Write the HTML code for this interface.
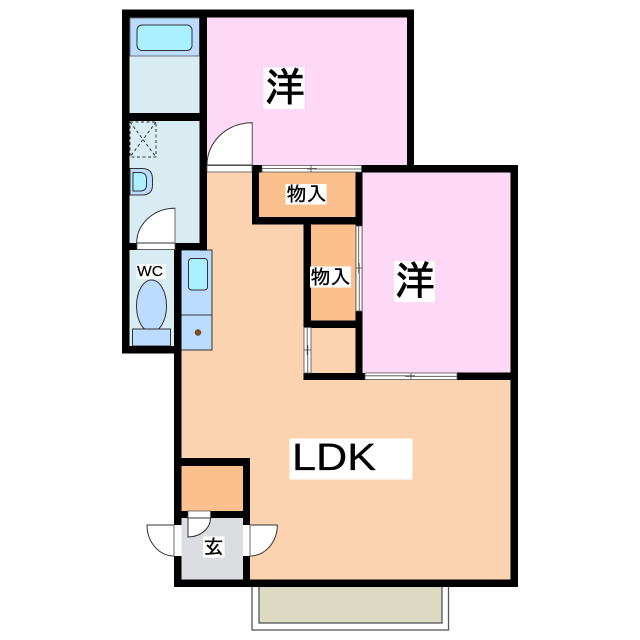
<!DOCTYPE html>
<html><head><meta charset="utf-8"><style>
html,body{margin:0;padding:0;background:#fff}
svg{display:block}
text{fill:#000}
.j{font-family:"Liberation Sans","IPAGothic","Noto Sans CJK JP",sans-serif}
</style></head><body>
<svg width="640" height="640" viewBox="0 0 640 640" xmlns="http://www.w3.org/2000/svg">
<!-- fills -->
<rect x="181" y="172" width="330" height="408" fill="#fcd3b1"/>
<rect x="207" y="17" width="201" height="149" fill="#fdd9f5"/>
<rect x="362" y="172" width="149" height="201" fill="#fdd9f5"/>
<rect x="129" y="17" width="71" height="97" fill="#d9ecf2"/>
<rect x="129" y="121" width="71" height="123" fill="#d9ecf2"/>
<rect x="129" y="250" width="46" height="97" fill="#d9ecf2"/>
<rect x="259" y="172" width="97" height="45" fill="#fbc08e"/>
<rect x="311" y="224" width="45" height="97" fill="#fbc08e"/>
<rect x="181" y="466" width="62" height="45" fill="#fbc08e"/>
<rect x="181" y="518" width="62" height="61.5" fill="#dcdde0"/>
<!-- balcony -->
<rect x="252" y="584" width="196.500" height="46" fill="#fff" stroke="#555" stroke-width="1.300"/>
<rect x="259" y="584" width="183" height="39" fill="#dddac4" stroke="#555" stroke-width="1.300"/>
<!-- bath -->
<rect x="130" y="18" width="69.500" height="38" fill="#bcdcff" stroke="#444" stroke-width=".7"/>
<rect x="137" y="25" width="55" height="25.500" rx="5" fill="#aaf0ff" stroke="#333" stroke-width="1"/>
<!-- dashed -->
<g fill="none" stroke="#333" stroke-width="1" stroke-dasharray="3 2.500">
<rect x="130" y="122" width="26" height="35"/>
<path d="M130 122L156 157M156 122L130 157"/>
</g>
<!-- basin -->
<path d="M130 168.500H142Q152.500 168.500 152.500 179V185Q152.500 195 142 195H130Z" fill="#bcdcff" stroke="#333" stroke-width="1"/>
<path d="M133 172.500H140Q146.500 172.500 146.500 179V185Q146.500 191 140 191H133Z" fill="#aaf0ff" stroke="#333" stroke-width="1"/>
<!-- kitchen -->
<rect x="181" y="250" width="31" height="100" fill="#bcdcff" stroke="#333" stroke-width="1"/>
<path d="M181 315H212" stroke="#333" stroke-width="1"/>
<rect x="188.500" y="258.500" width="19" height="31.500" rx="3" fill="#aaf0ff" stroke="#333" stroke-width="1"/>
<circle cx="198" cy="332.500" r="3" fill="#8b4a12" stroke="#333" stroke-width=".5"/>
<!-- toilet -->
<ellipse cx="151.500" cy="306" rx="15" ry="26" fill="#bcdcff" stroke="#333" stroke-width="1"/>
<rect x="132.500" y="329" width="38" height="17" fill="#bcdcff" stroke="#333" stroke-width="1"/>
<!-- walls -->
<g fill="#000">
<rect x="122" y="9.500" width="292" height="8"/>
<rect x="122" y="9.500" width="7.500" height="344"/>
<rect x="199.500" y="9.500" width="7.500" height="241"/>
<rect x="122" y="113" width="85" height="8"/>
<rect x="122" y="243" width="85" height="7"/>
<rect x="122" y="346" width="59" height="7.500"/>
<rect x="174" y="250" width="7.500" height="337"/>
<rect x="407" y="9.500" width="7" height="156"/>
<rect x="252" y="165" width="10" height="7.500"/>
<rect x="252" y="165" width="7" height="59"/>
<rect x="252" y="217" width="110" height="7.500"/>
<rect x="355.500" y="165" width="7" height="215"/>
<rect x="361" y="165" width="157" height="7.500"/>
<rect x="510.500" y="165" width="7.500" height="422"/>
<rect x="303.500" y="217" width="7.500" height="111"/>
<rect x="303.500" y="320.500" width="59" height="7.500"/>
<rect x="303.500" y="373" width="62" height="7"/>
<rect x="457" y="372.500" width="61" height="7.500"/>
<rect x="174" y="458" width="76" height="8"/>
<rect x="243" y="458" width="7" height="129"/>
<rect x="174" y="511" width="76" height="7"/>
<rect x="174" y="579.500" width="344" height="7.500"/>
</g>
<!-- openings / windows -->
<g fill="#fff" stroke="#555" stroke-width=".8">
<rect x="207" y="165.500" width="45" height="6.500"/>
<rect x="137" y="243" width="38" height="6.500"/>
<rect x="188" y="511" width="22.500" height="7"/>
<rect x="174" y="525" width="7.500" height="31" stroke="none"/>
<rect x="243" y="525" width="7" height="31" stroke="none"/>
<rect x="262" y="165.500" width="99.500" height="6.500"/>
<rect x="356" y="226" width="6" height="85"/>
<rect x="304" y="327.500" width="7" height="45.500"/>
<rect x="365" y="373" width="92" height="6.500"/>
</g>
<g fill="none" stroke="#444" stroke-width=".8">
<path d="M262 168.500H317M307 169H361.500M311 165.500V172"/>
<path d="M358.700 226V273M359.200 263V311M356 268H362"/>
<path d="M307.200 328V355M307.800 345V373M304 350H311"/>
<path d="M365 375.800H415M405 376.300H457M411 373V379.500"/>
</g>
<!-- doors -->
<g fill="#fff" stroke="#333" stroke-width="1">
<path d="M252.300 165V122.700A45 42.300 0 0 0 207 165Z"/>
<path d="M175 243V208.300A38.300 34.700 0 0 0 136.700 243Z"/>
<path d="M188 518V537A22.500 19 0 0 0 210.500 518Z"/>
<path d="M174 525H147A27 31 0 0 0 174 556Z"/>
<path d="M250 525H277.300A27.300 31 0 0 1 250 556Z"/>
</g>
<path d="M252.300 122.700V165M175 208.300V243M174 525V556M250 525V556" stroke="#777" stroke-width=".8" fill="none"/>
<!-- labels -->
<g fill="#fff">
<rect x="263.500" y="67.500" width="41" height="41.500"/>
<rect x="394" y="261" width="41" height="41"/>
<rect x="285.500" y="184" width="41" height="20.500"/>
<rect x="310" y="266.500" width="41" height="21"/>
<rect x="203" y="536.500" width="21.500" height="21"/>
<rect x="136.500" y="264" width="29.500" height="15"/>
<rect x="289.500" y="438.500" width="123" height="41"/>
</g>
<g stroke="#000">
<text class="j" x="265" y="101" font-size="40" stroke-width=".9">洋</text>
<text class="j" x="395" y="294.500" font-size="40" stroke-width=".9">洋</text>
<text class="j" x="286.500" y="201" font-size="20" stroke-width=".35">物入</text>
<text class="j" x="310.500" y="284" font-size="20" stroke-width=".35">物入</text>
<text class="j" x="203.500" y="554" font-size="20" stroke-width=".35">玄</text>
<text x="137" y="276" font-family="Liberation Sans" font-size="14.500" textLength="26" lengthAdjust="spacingAndGlyphs" stroke-width=".2">WC</text>
<text x="292" y="470" font-family="Liberation Sans" font-size="38" textLength="84" lengthAdjust="spacingAndGlyphs" stroke-width=".3">LDK</text>
</g>
</svg>
</body></html>
